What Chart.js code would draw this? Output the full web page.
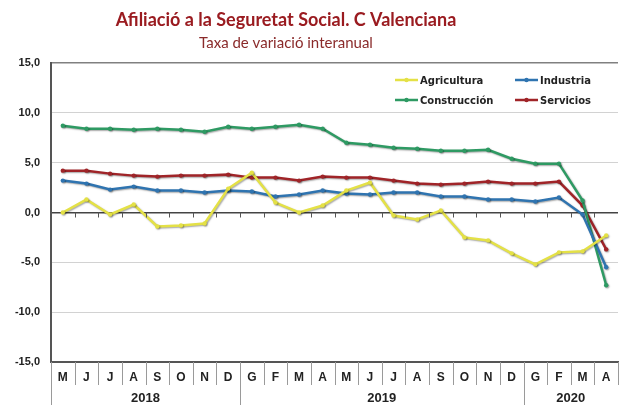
<!DOCTYPE html>
<html lang="ca">
<head>
<meta charset="UTF-8">
<title>Afiliació a la Seguretat Social. C Valenciana</title>
<script src="https://cdn.jsdelivr.net/npm/chart.js"></script>
<style>
  html, body { margin: 0; padding: 0; background: #fff; }
  #wrap { position: relative; width: 622px; height: 405px; }
</style>
</head>
<body>
<div id="wrap"><canvas id="myChart"></canvas></div>
<script>
// mesos (maig 2018 - abril 2020)
var months = ['M', 'J', 'J', 'A', 'S', 'O', 'N', 'D', 'G', 'F', 'M', 'A', 'M', 'J', 'J', 'A', 'S', 'O', 'N', 'D', 'G', 'F', 'M', 'A'];
var yearLabels = ['2018', '2019', '2020'];
var yearMonths = [8, 12, 4];

var agricultura = [0.0, 1.3, -0.2, 0.8, -1.4, -1.3, -1.1, 2.4, 4.0, 1.0, 0.0, 0.7, 2.2, 3.0, -0.3, -0.7, 0.2, -2.5, -2.8, -4.1, -5.2, -4.0, -3.9, -2.3];
var industria = [3.2, 2.9, 2.3, 2.6, 2.2, 2.2, 2.0, 2.2, 2.1, 1.6, 1.8, 2.2, 1.9, 1.8, 2.0, 2.0, 1.6, 1.6, 1.3, 1.3, 1.1, 1.5, -0.2, -5.5];
var construccion = [8.7, 8.4, 8.4, 8.3, 8.4, 8.3, 8.1, 8.6, 8.4, 8.6, 8.8, 8.4, 7.0, 6.8, 6.5, 6.4, 6.2, 6.2, 6.3, 5.4, 4.9, 4.9, 1.2, -7.3];
var servicios = [4.2, 4.2, 3.9, 3.7, 3.6, 3.7, 3.7, 3.8, 3.5, 3.5, 3.2, 3.6, 3.5, 3.5, 3.2, 2.9, 2.8, 2.9, 3.1, 2.9, 2.9, 3.1, 0.7, -3.7];

var yTicks = [-15, -10, -5, 0, 5, 10, 15];

function serie(label, data, color) {
    return {
        label: label,
        data: data,
        borderColor: color,
        backgroundColor: color,
        pointBackgroundColor: color,
        pointBorderColor: color,
        borderWidth: 2.5,
        pointRadius: 2.2,
        pointBorderWidth: 0,
        tension: 0
    };
}

// titol i subtitol
var titlePlugin = {
    id: 'titols',
    afterDraw: function (chart) {
        var ctx = chart.ctx;
        ctx.save();
        ctx.textAlign = 'center';
        ctx.textBaseline = 'middle';
        ctx.fillStyle = '#9a1b20';
        ctx.font = 'bold 18px Lato';
        ctx.fillText('Afiliació a la Seguretat Social. C Valenciana', 286, 20);
        ctx.fillStyle = '#8a2a2a';
        ctx.font = '15px Lato';
        ctx.fillText('Taxa de variació interanual', 286, 43);
        ctx.restore();
    }
};

// ombra de les linies
var shadowPlugin = {
    id: 'ombra',
    beforeDatasetsDraw: function (chart) {
        var ctx = chart.ctx;
        ctx.save();
        ctx.shadowColor = 'rgba(0,0,0,0.35)';
        ctx.shadowBlur = 1.5;
        ctx.shadowOffsetX = 1;
        ctx.shadowOffsetY = 1;
    },
    afterDatasetsDraw: function (chart) {
        chart.ctx.restore();
    }
};

// eix X: separadors de mesos, anys, marques sobre el zero
var axisPlugin = {
    id: 'eixX',
    afterDraw: function (chart) {
        var ctx = chart.ctx;
        var xs = chart.scales.x;
        var ys = chart.scales.y;
        var area = chart.chartArea;
        var half = (xs.getPixelForValue(1) - xs.getPixelForValue(0)) / 2;
        var y0 = ys.getPixelForValue(0);
        ctx.save();
        // marques al zero
        ctx.strokeStyle = '#555';
        ctx.lineWidth = 1;
        for (var i = 1; i < months.length; i++) {
            var bx = Math.round(xs.getPixelForValue(i) - half) + 0.5;
            ctx.beginPath();
            ctx.moveTo(bx, y0);
            ctx.lineTo(bx, y0 + 5);
            ctx.stroke();
        }
        // separadors de mesos
        ctx.strokeStyle = '#9a9a9a';
        for (var j = 1; j <= months.length; j++) {
            var sx = Math.round(xs.getPixelForValue(j) - half) + 0.5;
            ctx.beginPath();
            ctx.moveTo(sx, area.bottom);
            ctx.lineTo(sx, area.bottom + 23);
            ctx.stroke();
        }
        // anys
        var start = 0;
        ctx.font = 'bold 13px "Liberation Sans"';
        ctx.fillStyle = '#222';
        ctx.textAlign = 'center';
        ctx.textBaseline = 'middle';
        for (var k = 0; k < yearLabels.length; k++) {
            var end = start + yearMonths[k];
            var left = xs.getPixelForValue(start) - half;
            var right = xs.getPixelForValue(end) - half;
            ctx.fillText(yearLabels[k], (left + right) / 2, area.bottom + 36);
            if (k > 0) {
                var lx = Math.round(left) + 0.5;
                ctx.beginPath();
                ctx.moveTo(lx, area.bottom);
                ctx.lineTo(lx, chart.height);
                ctx.stroke();
            }
            start = end;
        }
        // eix esquerre allargat
        ctx.strokeStyle = '#9a9a9a';
        ctx.beginPath();
        ctx.moveTo(area.left + 0.5, area.bottom);
        ctx.lineTo(area.left + 0.5, chart.height);
        ctx.stroke();
        ctx.restore();
    }
};

// llegenda dins l'area del grafic
var legendPlugin = {
    id: 'llegenda',
    afterDraw: function (chart) {
        var ctx = chart.ctx;
        var pos = [[395, 80], [515, 80], [395, 100], [515, 100]];
        ctx.save();
        ctx.font = 'bold 10px "DejaVu Sans"';
        ctx.textBaseline = 'middle';
        ctx.textAlign = 'left';
        chart.data.datasets.forEach(function (ds, i) {
            var p = pos[i];
            ctx.strokeStyle = ds.borderColor;
            ctx.lineWidth = 2.5;
            ctx.beginPath();
            ctx.moveTo(p[0], p[1]);
            ctx.lineTo(p[0] + 23, p[1]);
            ctx.stroke();
            ctx.fillStyle = ds.borderColor;
            ctx.beginPath();
            ctx.arc(p[0] + 11.5, p[1], 2.2, 0, Math.PI * 2);
            ctx.fill();
            ctx.fillStyle = '#222';
            ctx.fillText(ds.label, p[0] + 25, p[1] + 1);
        });
        ctx.restore();
    }
};

var ctx = document.getElementById('myChart');
var myChart = new Chart(ctx, {
    type: 'line',
    data: {
        labels: months,
        datasets: [
            serie('Agricultura', agricultura, '#e4e146'),
            serie('Industria', industria, '#2f74b0'),
            serie('Construcción', construccion, '#2e9a63'),
            serie('Servicios', servicios, '#a02428')
        ]
    },
    options: {
        responsive: true,
        maintainAspectRatio: false,
        animation: false,
        layout: { padding: { top: 63, right: 1, left: 0, bottom: 0 } },
        plugins: {
            legend: { display: false },
            title: { display: false },
            tooltip: { enabled: false }
        },
        scales: {
            x: {
                offset: true,
                grid: { display: false, drawTicks: false },
                border: { display: true, color: '#555', width: 2 },
                ticks: {
                    padding: 8,
                    color: '#222',
                    maxRotation: 0,
                    autoSkip: false,
                    font: { family: 'Liberation Sans', weight: 'bold', size: 12 }
                },
                afterFit: function (scale) { scale.height = 43; }
            },
            y: {
                min: -15,
                max: 15,
                afterBuildTicks: function (scale) {
                    scale.ticks = yTicks.map(function (v) { return { value: v }; });
                },
                grid: {
                    drawTicks: false,
                    color: function (c) {
                        if (c.tick && c.tick.value === 0) return '#444';
                        if (c.tick && c.tick.value === 15) return '#808080';
                        return '#d2d2d2';
                    },
                    lineWidth: function (c) {
                        return (c.tick && (c.tick.value === 0 || c.tick.value === 15)) ? 1.5 : 1;
                    }
                },
                border: { display: true, color: '#555', width: 2 },
                ticks: {
                    padding: 11,
                    color: '#222',
                    font: { family: 'Liberation Sans', weight: 'bold', size: 11 },
                    callback: function (v) { return v.toFixed(1).replace('.', ','); }
                },
                afterFit: function (scale) { scale.width = 51; }
            }
        }
    },
    plugins: [shadowPlugin, axisPlugin, legendPlugin, titlePlugin]
});
</script>
</body>
</html>
